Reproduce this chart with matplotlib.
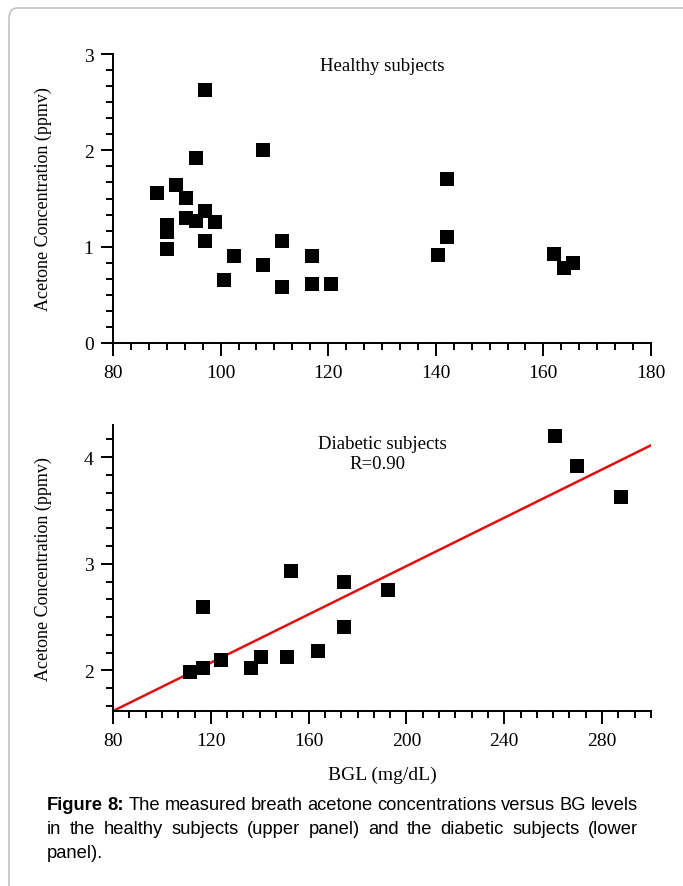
import matplotlib
matplotlib.use("Agg")
import matplotlib.pyplot as plt
import matplotlib.ticker as ticker
from matplotlib.patches import FancyBboxPatch
import numpy as np

# healthy subjects: BGL (mg/dL) vs acetone (ppmv)
healthy_bgl = [97.1, 107.8, 95.4, 91.7, 88.1, 93.5, 97.1, 93.5, 95.4, 99.0,
               90.0, 90.0, 97.1, 90.0, 111.5, 102.4, 116.9, 107.8, 100.7,
               111.5, 116.9, 120.5, 142.1, 142.1, 140.4, 162.0, 163.8, 165.5]
healthy_ace = [2.63, 2.00, 1.92, 1.64, 1.56, 1.51, 1.37, 1.30, 1.27, 1.26,
               1.23, 1.15, 1.06, 0.98, 1.06, 0.90, 0.90, 0.81, 0.65,
               0.58, 0.61, 0.61, 1.70, 1.10, 0.91, 0.92, 0.78, 0.83]

# diabetic subjects
diab_bgl = [260.8, 269.8, 287.8, 152.8, 174.6, 192.4, 116.9, 174.6,
            163.7, 151.2, 140.4, 124.2, 136.6, 116.9, 111.5]
diab_ace = [4.20, 3.92, 3.63, 2.93, 2.83, 2.75, 2.59, 2.41,
            2.18, 2.13, 2.13, 2.10, 2.02, 2.02, 1.99]

# fitted line
fit_slope = 0.01132
fit_icpt = 0.714

W, H = 683, 887
plt.rcParams['font.family'] = ['Liberation Serif', 'DejaVu Serif']
fig = plt.figure(figsize=(W / 100, H / 100), dpi=100)

# frame around the figure
fig.patches.append(FancyBboxPatch((9 / W, -0.05), 1.2, 1.05 - 9 / H,
                                  boxstyle="round,pad=0,rounding_size=0.012",
                                  transform=fig.transFigure, fill=False,
                                  edgecolor='#c4c4c4', linewidth=1.2))


def style_axes(ax):
    for s in ['top', 'right']:
        ax.spines[s].set_visible(False)
    for s in ['left', 'bottom']:
        ax.spines[s].set_linewidth(1.4)
    ax.tick_params(which='major', direction='out', length=9, width=1.4,
                   labelsize=14, pad=5)
    ax.tick_params(which='minor', direction='out', length=5, width=1.4)
    ax.tick_params(axis='x', which='major', pad=6)
    ax.xaxis.set_minor_locator(ticker.AutoMinorLocator(6))
    ax.yaxis.set_minor_locator(ticker.AutoMinorLocator(6))
    ax.set_ylabel('Acetone Concentration (ppmv)', fontsize=13, labelpad=23)


ax1 = fig.add_axes([113 / W, (H - 344) / H, 538 / W, 289 / H])
ax1.scatter(healthy_bgl, healthy_ace, marker='s', s=105, color='black',
            linewidths=0, zorder=3, clip_on=False)
ax1.set_xlim(80, 180)
ax1.set_ylim(0, 3)
ax1.xaxis.set_major_locator(ticker.MultipleLocator(20))
ax1.yaxis.set_major_locator(ticker.MultipleLocator(1))
style_axes(ax1)
ax1.text(0.5, 0.96, 'Healthy subjects', transform=ax1.transAxes,
         ha='center', va='center', fontsize=13.5)

ax2 = fig.add_axes([113 / W, (H - 712) / H, 538 / W, 286 / H])
ax2.scatter(diab_bgl, diab_ace, marker='s', s=105, color='black',
            linewidths=0, zorder=3, clip_on=False)
xf = np.array([80, 300])
ax2.plot(xf, fit_slope * xf + fit_icpt, color='#e01010', linewidth=1.8, zorder=2)
ax2.set_xlim(80, 300)
ax2.set_ylim(1.62, 4.30)
ax2.set_xticks([80, 120, 160, 200, 240, 280])
ax2.yaxis.set_major_locator(ticker.MultipleLocator(1))
style_axes(ax2)
ax2.xaxis.set_minor_locator(ticker.MultipleLocator(40 / 6))
ax2.yaxis.set_minor_locator(ticker.MultipleLocator(1 / 6))
ax2.set_xlabel('BGL (mg/dL)', fontsize=14, labelpad=12)
ax2.text(0.5, 0.935, 'Diabetic subjects', transform=ax2.transAxes,
         ha='center', va='center', fontsize=13.5)
ax2.text(0.492, 0.865, 'R=0.90', transform=ax2.transAxes,
         ha='center', va='center', fontsize=13.5)

# caption, justified word by word
cap_lines = [
    [('Figure', True), ('8:', True), ('The', False), ('measured', False),
     ('breath', False), ('acetone', False), ('concentrations', False),
     ('versus', False), ('BG', False), ('levels', False)],
    [(w, False) for w in 'in the healthy subjects (upper panel) and the diabetic subjects (lower'.split()],
    [('panel).', False)],
]
cap_y = [806, 830, 854]
x_left, x_right = 47, 638
fig.canvas.draw()
renderer = fig.canvas.get_renderer()
for i, (words, yp) in enumerate(zip(cap_lines, cap_y)):
    texts = []
    for w, bold in words:
        t = fig.text(0, 1 - yp / H, w, fontsize=13.2,
                     family=['Liberation Sans', 'DejaVu Sans'],
                     fontweight='bold' if bold else 'normal',
                     ha='left', va='center')
        texts.append(t)
    widths = [t.get_window_extent(renderer).width for t in texts]
    if i < len(cap_lines) - 1 and len(texts) > 1:
        gap = (x_right - x_left - sum(widths)) / (len(texts) - 1)
    else:
        gap = 4
    xp = x_left
    for t, wd in zip(texts, widths):
        t.set_x(xp / W)
        xp += wd + gap

fig.savefig('out.png', dpi=100)
